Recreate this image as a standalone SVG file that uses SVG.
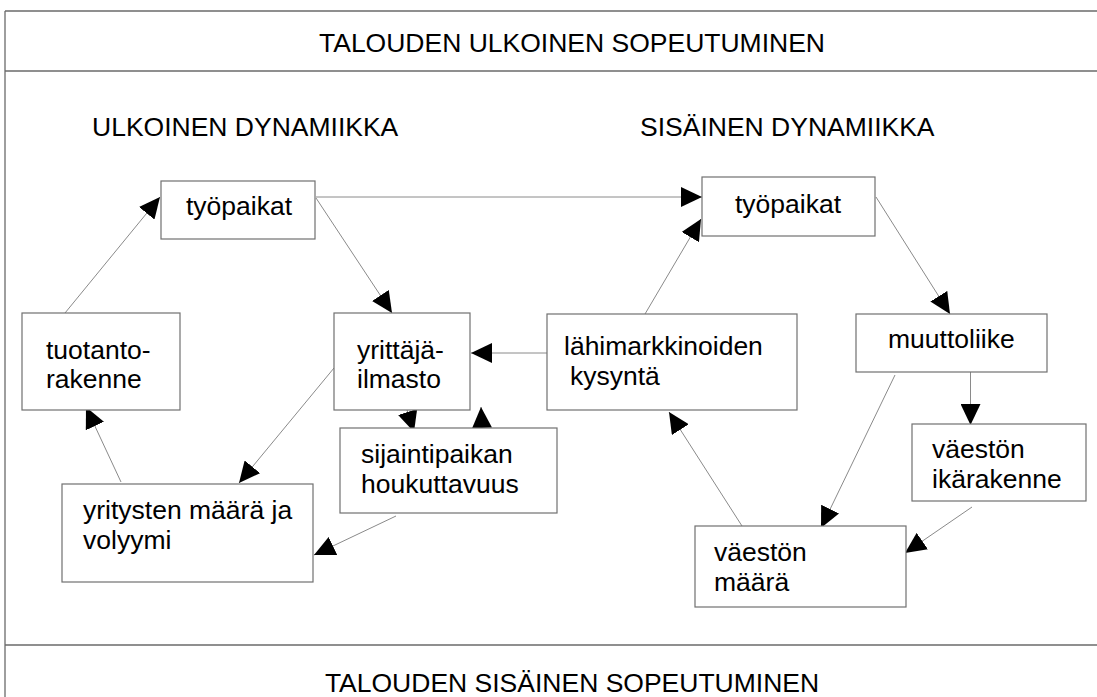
<svg xmlns="http://www.w3.org/2000/svg" width="1097" height="697" viewBox="0 0 1097 697">
<style>
  .frame{fill:none;stroke:#6a6a6a;stroke-width:1.3}
  .box{fill:#fff;stroke:#707070;stroke-width:1.2}
  .t{font-family:"Liberation Sans",Arial,sans-serif;font-size:26.5px;fill:#000}
  .c{fill:none;stroke:#8a8a8a;stroke-width:1}
</style>
<defs>
  <marker id="ah" markerUnits="userSpaceOnUse" markerWidth="22" markerHeight="20" refX="21" refY="10" orient="auto" viewBox="0 0 22 20">
    <path d="M0,0 L21,10 L0,20 z" fill="#000"/>
  </marker>
</defs>
<rect width="1097" height="697" fill="#fff"/>
<g id="frame">
  <line class="frame" x1="5" y1="11" x2="1097" y2="11"/>
  <line class="frame" x1="5" y1="71" x2="1097" y2="71"/>
  <line class="frame" x1="5" y1="645" x2="1097" y2="645"/>
  <line class="frame" x1="5" y1="11" x2="5" y2="697"/>
  <text class="t" x="572" y="52" text-anchor="middle">TALOUDEN ULKOINEN SOPEUTUMINEN</text>
  <text class="t" x="92" y="136">ULKOINEN DYNAMIIKKA</text>
  <text class="t" x="640" y="136">SISÄINEN DYNAMIIKKA</text>
  <text class="t" x="572" y="692" text-anchor="middle">TALOUDEN SISÄINEN SOPEUTUMINEN</text>
</g>
<g id="connectors">
  <line class="c" x1="65" y1="313" x2="160" y2="197" marker-end="url(#ah)"/>
  <line class="c" x1="316" y1="198" x2="392" y2="313" marker-end="url(#ah)"/>
  <line class="c" x1="316" y1="197" x2="702" y2="197" marker-end="url(#ah)"/>
  <line class="c" x1="645" y1="314" x2="701" y2="219" marker-end="url(#ah)"/>
  <line class="c" x1="876" y1="197" x2="950" y2="314" marker-end="url(#ah)"/>
  <line class="c" x1="547" y1="353" x2="471" y2="353" marker-end="url(#ah)"/>
  <line class="c" x1="970.5" y1="372" x2="970.5" y2="425" marker-end="url(#ah)"/>
  <line class="c" x1="895" y1="375" x2="821" y2="528" marker-end="url(#ah)"/>
  <line class="c" x1="972" y1="507" x2="905" y2="553" marker-end="url(#ah)"/>
  <line class="c" x1="742" y1="526" x2="669" y2="412" marker-end="url(#ah)"/>
  <line class="c" x1="334" y1="368" x2="239" y2="483" marker-end="url(#ah)"/>
  <line class="c" x1="121" y1="482" x2="86" y2="407" marker-end="url(#ah)"/>
  <line class="c" x1="396" y1="516" x2="314" y2="555" marker-end="url(#ah)"/>
  <line class="c" x1="407" y1="410" x2="414" y2="432" marker-end="url(#ah)"/>
  <line class="c" x1="482" y1="428" x2="481" y2="407" marker-end="url(#ah)"/>
</g>
<g id="tyopaikat-ulk">
  <rect class="box" x="161" y="181" width="154" height="58"/>
  <text class="t" x="186" y="215">työpaikat</text>
</g>
<g id="tyopaikat-sis">
  <rect class="box" x="702" y="177" width="173" height="59"/>
  <text class="t" x="735" y="213">työpaikat</text>
</g>
<g id="tuotantorakenne">
  <rect class="box" x="22" y="313" width="158" height="97"/>
  <text class="t" x="46" y="359">tuotanto-</text>
  <text class="t" x="46" y="388">rakenne</text>
</g>
<g id="yrittajailmasto">
  <rect class="box" x="334" y="313" width="136" height="97"/>
  <text class="t" x="357" y="359">yrittäjä-</text>
  <text class="t" x="357" y="388">ilmasto</text>
</g>
<g id="lahimarkkinoiden">
  <rect class="box" x="547" y="314" width="250" height="96"/>
  <text class="t" x="564" y="355">lähimarkkinoiden</text>
  <text class="t" x="570" y="385">kysyntä</text>
</g>
<g id="muuttoliike">
  <rect class="box" x="856" y="314" width="191" height="58"/>
  <text class="t" x="888" y="348">muuttoliike</text>
</g>
<g id="sijaintipaikan">
  <rect class="box" x="340" y="428" width="217" height="85"/>
  <text class="t" x="361" y="463">sijaintipaikan</text>
  <text class="t" x="361" y="493">houkuttavuus</text>
</g>
<g id="yritysten">
  <rect class="box" x="62" y="484" width="251" height="98"/>
  <text class="t" x="83" y="519">yritysten määrä ja</text>
  <text class="t" x="83" y="549">volyymi</text>
</g>
<g id="ikarakenne">
  <rect class="box" x="912" y="424" width="174" height="77"/>
  <text class="t" x="932" y="458">väestön</text>
  <text class="t" x="932" y="488">ikärakenne</text>
</g>
<g id="vaeston-maara">
  <rect class="box" x="695" y="526" width="211" height="81"/>
  <text class="t" x="714" y="561">väestön</text>
  <text class="t" x="714" y="591">määrä</text>
</g>
</svg>
